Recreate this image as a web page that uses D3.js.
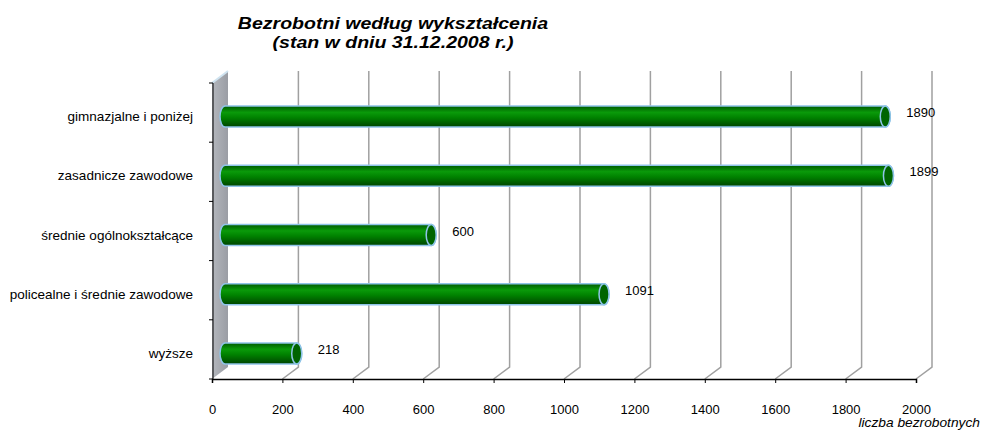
<!DOCTYPE html>
<html>
<head>
<meta charset="utf-8">
<script src="https://cdn.jsdelivr.net/npm/d3@7"></script>
<style>
  body { margin: 0; background: #fff; }
  svg { font-family: "Liberation Sans", Arial, sans-serif; }
</style>
</head>
<body>
<div class="vis-bar"></div>
<script>
// data (top to bottom)
const categories = ["gimnazjalne i poniżej", "zasadnicze zawodowe", "średnie ogólnokształcące", "policealne i średnie zawodowe", "wyższe"];
const values = [1890, 1899, 600, 1091, 218];
const xTicks = [0, 200, 400, 600, 800, 1000, 1200, 1400, 1600, 1800, 2000];
const titleLines = ["Bezrobotni według wykształcenia", "(stan w dniu 31.12.2008 r.)"];
const xTitle = "liczba bezrobotnych";

const width = 984, height = 430;
const margin = { top: 83, left: 212, right: 68, bottom: 51 };
const depth = { dx: 16, dy: -12 };

const svg = d3.select(".vis-bar").append("svg")
    .attr("width", width)
    .attr("height", height);

const defs = svg.append("defs");
// cylinder shading
let g1 = defs.append("linearGradient").attr("id", "cyl")
    .attr("x1", 0).attr("y1", 0).attr("x2", 0).attr("y2", 1);
g1.append("stop").attr("offset", "0%").attr("stop-color", "#005a00");
g1.append("stop").attr("offset", "30%").attr("stop-color", "#0a9a0a");
g1.append("stop").attr("offset", "55%").attr("stop-color", "#008200");
g1.append("stop").attr("offset", "100%").attr("stop-color", "#004400");
let g2 = defs.append("linearGradient").attr("id", "wall")
    .attr("x1", 0).attr("y1", 0).attr("x2", 1).attr("y2", 0);
g2.append("stop").attr("offset", "0%").attr("stop-color", "#b4b7bd");
g2.append("stop").attr("offset", "100%").attr("stop-color", "#9a9da4");

const x = d3.scaleLinear().domain([0, 2000]).range([margin.left, width - margin.right]);
const y = d3.scaleBand().domain(categories).range([margin.top, height - margin.bottom]);
const yBase = height - margin.bottom;

// back wall (left side)
svg.append("path")
    .attr("d", `M${x(0)},${margin.top} L${x(0) + depth.dx},${margin.top + depth.dy} L${x(0) + depth.dx},${yBase + depth.dy} L${x(0)},${yBase} Z`)
    .attr("fill", "url(#wall)");
svg.append("line")
    .attr("x1", x(0)).attr("y1", margin.top)
    .attr("x2", x(0) + depth.dx).attr("y2", margin.top + depth.dy)
    .attr("stroke", "#cfe3f0").attr("stroke-width", 2);

// gridlines on the back plane + floor diagonals
svg.append("g").selectAll("path")
    .data(xTicks.slice(1))
    .join("path")
    .attr("d", d => `M${x(d)},${yBase} L${x(d) + depth.dx},${yBase + depth.dy} L${x(d) + depth.dx},${margin.top + depth.dy}`)
    .attr("fill", "none")
    .attr("stroke", "#a0a0a0")
    .attr("stroke-width", 1.5);

// axes
svg.append("g")
    .attr("transform", "translate(0," + yBase + ")")
    .call(d3.axisBottom(x).tickValues(xTicks).tickSize(4).tickPadding(22).tickFormat(d3.format("d")))
    .call(g => g.select(".domain").attr("stroke", "#000").attr("stroke-width", 1.5))
    .call(g => g.selectAll("text").attr("font-size", 13).attr("font-family", "Liberation Sans, Arial").attr("fill", "#000"));

const yAxis = svg.append("g")
    .attr("transform", "translate(" + (x(0) + 1) + ",0)");
yAxis.append("line")
    .attr("x1", 0).attr("x2", 0).attr("y1", margin.top).attr("y2", yBase)
    .attr("stroke", "#000").attr("stroke-width", 1);
yAxis.selectAll("line.tk")
    .data(categories.map(c => y(c)).concat([yBase]))
    .join("line").attr("class", "tk")
    .attr("x1", -4).attr("x2", 0)
    .attr("y1", d => d).attr("y2", d => d)
    .attr("stroke", "#000");

// category labels
svg.append("g").selectAll("text")
    .data(categories)
    .join("text")
    .attr("transform", d => `translate(193,${y(d) + y.bandwidth() / 2 + 4}) scale(1.04,1)`)
    .attr("dy", "0.35em")
    .attr("text-anchor", "end")
    .attr("font-size", 13)
    .text(d => d);

// cylinders
const rx = 5, ry = 10.5;
const bars = svg.append("g").selectAll("g")
    .data(categories.map((c, i) => ({ c: c, v: values[i] })))
    .join("g");
bars.append("path")
    .attr("d", d => {
        const x0 = x(0) + depth.dx / 2 + rx, x1 = x(d.v) + depth.dx / 2;
        const cy = y(d.c) + y.bandwidth() / 2 + 4;
        return `M${x0},${cy - ry} L${x1},${cy - ry} A${rx},${ry} 0 0 1 ${x1},${cy + ry} L${x0},${cy + ry} A${rx},${ry} 0 0 1 ${x0},${cy - ry} Z`;
    })
    .attr("fill", "url(#cyl)")
    .attr("stroke", "#8fc4e8")
    .attr("stroke-width", 1.5);
bars.append("ellipse")
    .attr("cx", d => x(d.v) + depth.dx / 2)
    .attr("cy", d => y(d.c) + y.bandwidth() / 2 + 4)
    .attr("rx", rx).attr("ry", ry)
    .attr("fill", "#006400")
    .attr("stroke", "#8fc4e8")
    .attr("stroke-width", 1.5);

// value labels
bars.append("text")
    .attr("x", d => x(d.v) + depth.dx / 2 + rx + 16)
    .attr("y", d => y(d.c) + y.bandwidth() / 2)
    .attr("dy", "0.35em")
    .attr("font-size", 13)
    .text(d => d.v);

// title
svg.append("g").selectAll("text")
    .data(titleLines)
    .join("text")
    .attr("transform", (d, i) => `translate(393,${29 + i * 19}) scale(1.15,1)`)
    .attr("text-anchor", "middle")
    .attr("font-size", 17)
    .attr("font-weight", "bold")
    .attr("font-style", "italic")
    .text(d => d);

// axis title
svg.append("text")
    .attr("transform", "translate(980,427) scale(1.06,1)")
    .attr("text-anchor", "end")
    .attr("font-size", 13)
    .attr("font-style", "italic")
    .text(xTitle);
</script>
</body>
</html>
